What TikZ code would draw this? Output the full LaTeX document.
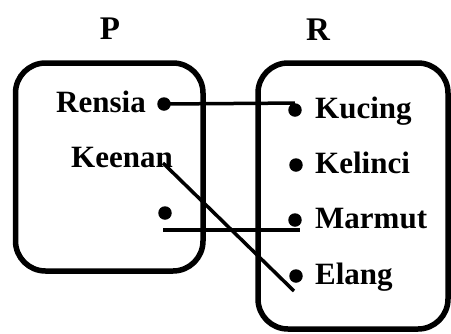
\documentclass[tikz,border=0pt]{standalone}
\usepackage{fontspec}
\setmainfont{Liberation Serif}
\begin{document}
\begin{tikzpicture}[x=1pt,y=-1pt,
  setbox/.style={line width=5.5pt, rounded corners=30pt},
  conn/.style={line width=3.5pt},
  dotnode/.style={circle, fill=black, inner sep=0pt, minimum size=13.5pt},
  item/.style={font=\fontsize{31}{36}\selectfont\bfseries, inner sep=0pt, anchor=base west},
  setlabel/.style={font=\fontsize{33}{40}\selectfont\bfseries, inner sep=0pt, anchor=base}
]
\useasboundingbox (0,0) rectangle (451,333);
\clip (0,0) rectangle (451,333);
% set boxes
\draw[setbox] (15.5,63) rectangle (203,271);
\draw[setbox] (258,63) rectangle (448,329);
% labels
\node[setlabel] (P) at (110,39) {P};
\node[setlabel] (R) at (318,40) {R};
% domain
\node[item] (rensia) at (56,112) {Rensia};
\node[item] (keenan) at (71,167) {Keenan};
\node[dotnode] (rd) at (164,104) {};
\node[dotnode] (xd) at (165,213) {};
% codomain
\node[dotnode] (kd) at (295,110) {};
\node[dotnode] (ld) at (296,165) {};
\node[dotnode] (md) at (295,220) {};
\node[dotnode] (ed) at (296,276) {};
\node[item] (kucing) at (315,118) {Kucing};
\node[item] (kelinci) at (315,173) {Kelinci};
\node[item] (marmut) at (315,228) {Marmut};
\node[item] (elang) at (315,284) {Elang};
% connectors
\coordinate (k1) at (163,163);
\coordinate (k2) at (294,291);
\coordinate (m1) at (163,230);
\coordinate (m2) at (300,230);
\draw[conn] (rd.center) -- (kd.north);
\draw[conn] (k1) -- (k2);
\draw[conn] (m1) -- (m2);
\end{tikzpicture}
\end{document}
